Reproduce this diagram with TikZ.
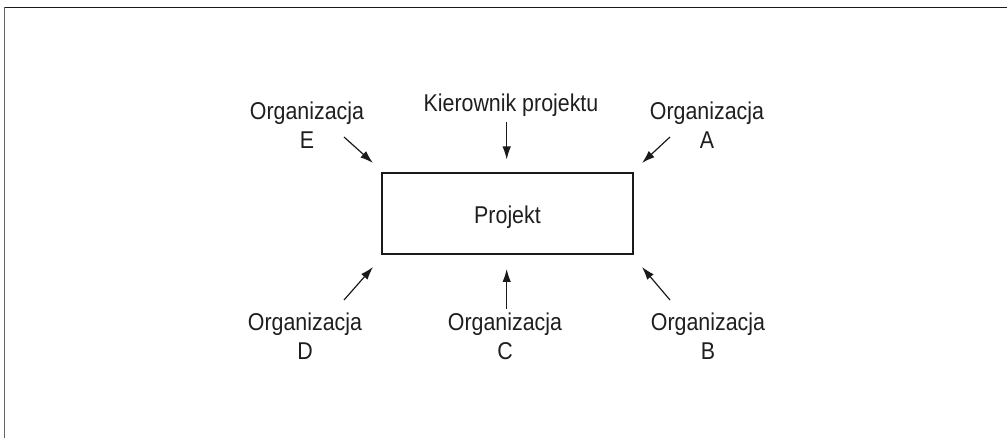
\documentclass[tikz,border=0pt]{standalone}
\usepackage{fontspec}
\setmainfont{Liberation Sans}[FakeStretch=0.88]
\usetikzlibrary{arrows.meta}
\definecolor{txt}{HTML}{1E1E1E}
\definecolor{ln}{HTML}{1A1A1A}
\begin{document}
\begin{tikzpicture}[x=1pt,y=-1pt,
  lbl/.style={font=\fontsize{24.3}{29}\selectfont, text=txt, align=center, inner sep=0pt},
  projbox/.style={draw=ln, line width=1.5pt, minimum width=251pt, minimum height=81pt,
     inner sep=0pt, font=\fontsize{24.3}{29}\selectfont, text=txt, text height=21pt, text depth=0pt},
  arr/.style={draw=ln, line width=1.2pt, -{Latex[length=13pt,width=8.5pt]}},
  frame/.style={line width=1.4pt}]
\useasboundingbox (0,0) rectangle (1007,438);
\draw[frame, draw=ln] (1007,7.3) -- (4.7,7.3);
\draw[frame, draw=black!60] (4.7,7.3) -- (4.7,438);

\node[projbox] (proj) at (507.5,213.5) {Projekt};

\node[lbl, anchor=base] (kier) at (511,112) {Kierownik projektu};
\node[lbl] (orgE) at (307,125) {Organizacja\\E};
\node[lbl] (orgA) at (707,125) {Organizacja\\A};
\node[lbl] (orgD) at (305,336.4) {Organizacja\\D};
\node[lbl] (orgC) at (505,336.4) {Organizacja\\C};
\node[lbl] (orgB) at (708,336.4) {Organizacja\\B};

\coordinate (kS) at (506.7,122);  \coordinate (kT) at (506.7,159.5);
\coordinate (eS) at (344,137);    \coordinate (eT) at (373,163);
\coordinate (aS) at (670,137);    \coordinate (aT) at (642,163);
\coordinate (dS) at (344,300);    \coordinate (dT) at (373,267);
\coordinate (cS) at (506.7,309);  \coordinate (cT) at (506.7,269);
\coordinate (bS) at (670,300);    \coordinate (bT) at (642,267);

\draw[arr] (kS) -- (kT);
\draw[arr] (eS) -- (eT);
\draw[arr] (aS) -- (aT);
\draw[arr] (dS) -- (dT);
\draw[arr] (cS) -- (cT);
\draw[arr] (bS) -- (bT);
\end{tikzpicture}
\end{document}
